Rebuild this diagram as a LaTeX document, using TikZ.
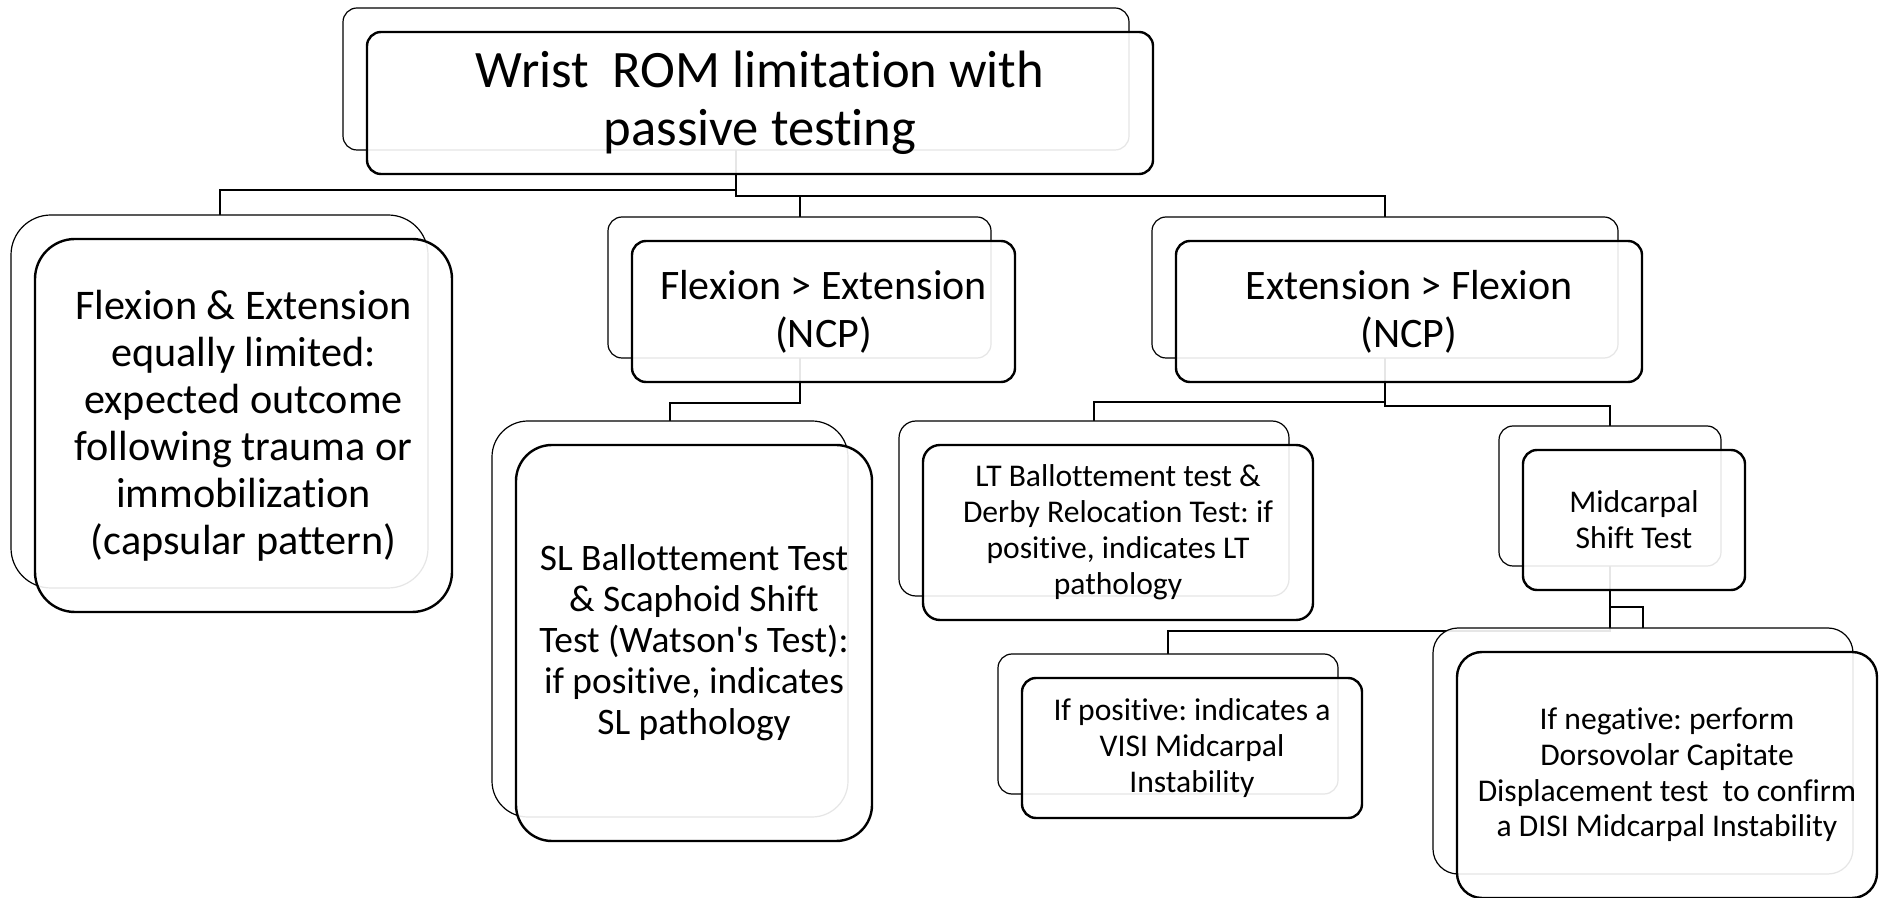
\documentclass[tikz,border=0pt]{standalone}
\usepackage{fontspec}
\setmainfont{Carlito}[Ligatures=NoCommon]
\newfontfamily\carl{Carlito}[Ligatures=NoCommon]
\usetikzlibrary{backgrounds}
\frenchspacing
\tikzset{
  backbox/.style={rectangle, draw=black, line width=0.6pt, fill=white, fill opacity=0.9, text opacity=1, inner sep=0pt, outer sep=0pt},
  frontbox/.style={rectangle, draw=black, line width=1.2pt, fill=white, fill opacity=0.9, text opacity=1, inner sep=0pt, outer sep=0pt, align=center},
  link/.style={draw=black, line width=1pt},
}
\newcommand\fs[2]{\carl\frenchspacing\fontsize{#1}{#2}\selectfont}
% #1 name, #2 x1, #3 y1, #4 x2, #5 y2 (back box, px), #6 corner radius, #7 font, #8 text
\newcommand\dualbox[8]{%
  \node[backbox, rounded corners=#6, minimum width={(#4-#2)*0.5pt}, minimum height={(#5-#3)*0.5pt}] (#1b) at ({(#2+#4)/2},{(#3+#5)/2}) {};
  \node[frontbox, rounded corners=#6, minimum width={(#4-#2)*0.5pt}, minimum height={(#5-#3)*0.5pt}, font=#7] (#1) at ({(#2+#4)/2+24},{(#3+#5)/2+24}) {#8};
}
\begin{document}
\begin{tikzpicture}[x=0.5pt,y=-0.5pt]
\useasboundingbox (0,0) rectangle (1881,898);

\dualbox{top}{343}{8}{1129}{150}{7pt}{\fs{26.3}{28.8}}{Wrist\ \ ROM limitation with\\passive testing}
\dualbox{left}{11}{215}{428}{588}{20pt}{\fs{21.1}{23.5}}{Flexion \& Extension\\equally limited:\\expected outcome\\following trauma or\\immobilization\\(capsular pattern)}
\dualbox{flex}{608}{217}{991}{358}{7pt}{\fs{21}{24}}{Flexion > Extension\\(NCP)}
\dualbox{ext}{1152}{217}{1618}{358}{7pt}{\fs{21}{24}}{Extension > Flexion\\(NCP)}
\dualbox{sl}{492}{421}{848}{817}{18pt}{\fs{18.7}{20.5}}{SL Ballottement Test\\\& Scaphoid Shift\\Test (Watson's Test):\\if positive, indicates\\SL pathology}
\dualbox{lt}{899}{421}{1289}{596}{8.5pt}{\fs{15.8}{18}}{LT Ballottement test \&\\Derby Relocation Test: if\\positive, indicates LT\\pathology}
\dualbox{mid}{1499}{426}{1721}{566}{7pt}{\fs{15.8}{18}}{Midcarpal\\Shift Test}
\dualbox{visi}{998}{654}{1338}{794}{7pt}{\fs{15.8}{18}}{If positive: indicates a\\VISI Midcarpal\\Instability}
\dualbox{disi}{1433}{628}{1853}{874}{12.5pt}{\fs{15.8}{17.8}}{If negative: perform\\Dorsovolar Capitate\\Displacement test\ \ to confirm\\a DISI Midcarpal Instability}

\begin{pgfonlayer}{background}
  \fill[white] (0,0) rectangle (1881,898);
  \draw[link] (topb.south) -- (topb.south |- 0,190) -| (leftb.north);
  \draw[link] (topb.south) -- (topb.south |- 0,196) -| (flexb.north);
  \draw[link] (topb.south |- 0,196) -| (extb.north);
  \draw[link] (flexb.south) -- (flexb.south |- 0,403) -| (slb.north);
  \draw[link] (extb.south) -- (extb.south |- 0,402) -| (ltb.north);
  \draw[link] (extb.south) -- (extb.south |- 0,406) -| (midb.north);
  \draw[link] (midb.south) -- (midb.south |- 0,607) -| (disib.north);
  \draw[link] (midb.south) -- (midb.south |- 0,631) -| (visib.north);
\end{pgfonlayer}
\end{tikzpicture}
\end{document}
